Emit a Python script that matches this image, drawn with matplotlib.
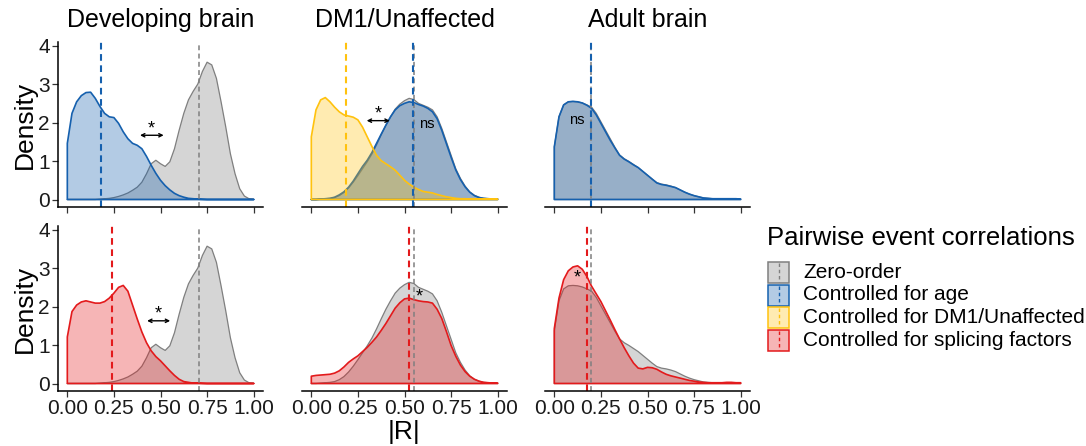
import numpy as np
import matplotlib
matplotlib.use("Agg")
import matplotlib.pyplot as plt
from matplotlib.colors import to_rgba
from matplotlib.patches import Rectangle
from matplotlib.lines import Line2D

plt.rcParams['font.family'] = ['Liberation Sans', 'DejaVu Sans']

# ---------------- data ----------------
panels = ["Developing brain", "DM1/Unaffected", "Adult brain"]
series = ["Zero-order", "Controlled for age", "Controlled for DM1/Unaffected",
          "Controlled for splicing factors"]
series_colors = ["#7f7f7f", "#1560ae", "#ffc20e", "#e31a1c"]
x_ticks = [0.00, 0.25, 0.50, 0.75, 1.00]
x_tick_labels = ["0.00", "0.25", "0.50", "0.75", "1.00"]
y_ticks = [0, 1, 2, 3, 4]

r_grid = [0.000, 0.025, 0.050, 0.075, 0.100, 0.125, 0.150, 0.175, 0.200, 0.225,
          0.250, 0.275, 0.300, 0.325, 0.350, 0.375, 0.400, 0.425, 0.450, 0.475,
          0.500, 0.525, 0.550, 0.575, 0.600, 0.625, 0.650, 0.675, 0.700, 0.725,
          0.750, 0.775, 0.800, 0.825, 0.850, 0.875, 0.900, 0.925, 0.950, 0.975, 1.000]

dev_zero = [0, 0, 0, 0, 0, 0, 0, 0.01, 0.02, 0.03,
            0.05, 0.08, 0.12, 0.17, 0.24, 0.32, 0.45, 0.67, 0.93, 1.02,
            0.93, 0.86, 0.98, 1.32, 1.80, 2.24, 2.59, 2.81, 3.00, 3.33,
            3.57, 3.50, 3.15, 2.54, 1.89, 1.19, 0.67, 0.28, 0.09, 0.02, 0.01]
dev_age = [1.46, 2.24, 2.54, 2.70, 2.78, 2.79, 2.63, 2.42, 2.24, 2.15,
           2.13, 1.98, 1.76, 1.58, 1.46, 1.41, 1.32, 1.12, 0.89, 0.68,
           0.50, 0.36, 0.25, 0.16, 0.10, 0.06, 0.03, 0.02, 0.01, 0.005,
           0, 0, 0, 0, 0, 0, 0, 0, 0, 0, 0]
dev_splice = [1.21, 1.87, 2.04, 2.12, 2.15, 2.12, 2.09, 2.09, 2.13, 2.22,
              2.35, 2.50, 2.55, 2.40, 2.04, 1.68, 1.34, 1.06, 0.85, 0.70,
              0.59, 0.46, 0.33, 0.21, 0.11, 0.05, 0.03, 0.01, 0.01, 0.005,
              0, 0, 0, 0, 0, 0, 0, 0, 0, 0, 0]

dm1_zero = [0.0, 0.0, 0.01, 0.02, 0.03, 0.05, 0.10, 0.18, 0.30, 0.45,
            0.62, 0.80, 0.98, 1.18, 1.42, 1.68, 1.93, 2.15, 2.35, 2.48,
            2.57, 2.63, 2.60, 2.50, 2.45, 2.40, 2.33, 2.15, 1.85, 1.50,
            1.15, 0.80, 0.55, 0.35, 0.20, 0.11, 0.06, 0.03, 0.02, 0.01, 0.01]
dm1_age = [0.0, 0.0, 0.01, 0.02, 0.03, 0.06, 0.12, 0.20, 0.32, 0.48,
           0.67, 0.86, 1.02, 1.22, 1.46, 1.70, 1.93, 2.15, 2.33, 2.44,
           2.50, 2.54, 2.52, 2.47, 2.43, 2.37, 2.28, 2.10, 1.80, 1.45,
           1.10, 0.77, 0.52, 0.33, 0.19, 0.10, 0.05, 0.03, 0.02, 0.01, 0.01]
dm1_dm1 = [1.63, 2.33, 2.59, 2.65, 2.54, 2.40, 2.28, 2.20, 2.17, 2.14,
           2.07, 1.88, 1.63, 1.38, 1.15, 1.01, 0.93, 0.85, 0.76, 0.63,
           0.50, 0.40, 0.32, 0.26, 0.21, 0.19, 0.17, 0.13, 0.10, 0.07,
           0.05, 0.03, 0.02, 0.02, 0.01, 0.01, 0.01, 0.01, 0.01, 0.01, 0.01]
dm1_splice = [0.19, 0.21, 0.22, 0.23, 0.24, 0.27, 0.33, 0.43, 0.55, 0.64,
              0.72, 0.83, 0.94, 1.07, 1.21, 1.38, 1.56, 1.76, 1.96, 2.10,
              2.20, 2.22, 2.18, 2.15, 2.13, 2.12, 2.09, 1.93, 1.69, 1.35,
              0.99, 0.71, 0.48, 0.31, 0.19, 0.11, 0.06, 0.03, 0.02, 0.01, 0.01]

adult_zero = [1.37, 2.15, 2.46, 2.54, 2.55, 2.54, 2.51, 2.46, 2.40, 2.24,
              2.02, 1.80, 1.58, 1.36, 1.16, 1.06, 0.99, 0.91, 0.83, 0.73,
              0.63, 0.53, 0.44, 0.40, 0.38, 0.35, 0.31, 0.25, 0.19, 0.14,
              0.10, 0.07, 0.04, 0.03, 0.02, 0.02, 0.02, 0.02, 0.02, 0.02, 0.01]
adult_age = [1.37, 2.15, 2.46, 2.54, 2.55, 2.54, 2.51, 2.45, 2.37, 2.20,
             1.98, 1.76, 1.54, 1.34, 1.15, 1.05, 0.98, 0.90, 0.83, 0.73,
             0.63, 0.53, 0.43, 0.39, 0.37, 0.34, 0.31, 0.25, 0.19, 0.14,
             0.10, 0.07, 0.04, 0.03, 0.02, 0.02, 0.02, 0.02, 0.02, 0.02, 0.01]
adult_splice = [1.43, 2.22, 2.70, 2.93, 3.03, 3.06, 2.97, 2.78, 2.53, 2.33,
                2.13, 1.89, 1.65, 1.40, 1.16, 0.93, 0.72, 0.53, 0.40, 0.38,
                0.42, 0.41, 0.37, 0.30, 0.24, 0.20, 0.17, 0.14, 0.11, 0.08,
                0.06, 0.04, 0.03, 0.02, 0.02, 0.02, 0.02, 0.03, 0.03, 0.02, 0.02]

# medians (dashed vertical lines)
dev_medians = {"Zero-order": 0.705, "Controlled for age": 0.18,
               "Controlled for splicing factors": 0.239}
dm1_medians = {"Zero-order": 0.549, "Controlled for age": 0.545,
               "Controlled for DM1/Unaffected": 0.186,
               "Controlled for splicing factors": 0.526}
adult_medians = {"Zero-order": 0.197, "Controlled for age": 0.195,
                 "Controlled for splicing factors": 0.174}

densities = {
    "Developing brain": {"Zero-order": dev_zero, "Controlled for age": dev_age,
                         "Controlled for splicing factors": dev_splice},
    "DM1/Unaffected": {"Zero-order": dm1_zero, "Controlled for age": dm1_age,
                       "Controlled for DM1/Unaffected": dm1_dm1,
                       "Controlled for splicing factors": dm1_splice},
    "Adult brain": {"Zero-order": adult_zero, "Controlled for age": adult_age,
                    "Controlled for splicing factors": adult_splice},
}
medians = {"Developing brain": dev_medians, "DM1/Unaffected": dm1_medians,
           "Adult brain": adult_medians}

row_series = [["Zero-order", "Controlled for age", "Controlled for DM1/Unaffected"],
              ["Zero-order", "Controlled for splicing factors"]]

# annotations: (row, panel) -> list of items
arrows = {(0, "Developing brain"): (0.39, 0.517, 1.67),
          (1, "Developing brain"): (0.428, 0.552, 1.63),
          (0, "DM1/Unaffected"): (0.297, 0.421, 2.05)}
labels = {(0, "Developing brain"): [("*", 0.453, 1.84)],
          (1, "Developing brain"): [("*", 0.49, 1.80)],
          (0, "DM1/Unaffected"): [("*", 0.357, 2.22), ("ns", 0.62, 1.95)],
          (1, "DM1/Unaffected"): [("*", 0.58, 2.26)],
          (0, "Adult brain"): [("ns", 0.12, 2.08)],
          (1, "Adult brain"): [("*", 0.124, 2.75)]}

# ---------------- layout ----------------
W, H = 1086, 446
fig = plt.figure(figsize=(W / 100, H / 100), dpi=100)

def rect(l, t, r, b):
    return [l / W, 1 - b / H, (r - l) / W, (b - t) / H]

col_px = [(58, 263), (302, 507), (545, 750)]
row_px = [(42, 207), (226, 391)]
ALPHA = 0.32
color_of = dict(zip(series, series_colors))

for ri, (t, b) in enumerate(row_px):
    for ci, (l, r) in enumerate(col_px):
        ax = fig.add_axes(rect(l, t, r, b))
        pname = panels[ci]
        for s in series:
            if s not in row_series[ri] or s not in densities[pname]:
                continue
            y = densities[pname][s]
            c = color_of[s]
            xs = [r_grid[0]] + r_grid + [r_grid[-1]]
            ys = [0] + y + [0]
            lw = 0.9 if s == "Zero-order" else 1.2
            ax.fill(xs, ys, facecolor=to_rgba(c, ALPHA), edgecolor=c, lw=lw,
                    joinstyle='round')
        for s in series:
            if s not in row_series[ri] or s not in medians[pname]:
                continue
            c = color_of[s]
            lw = 1.1 if s == "Zero-order" else 1.5
            ax.axvline(medians[pname][s], color=c, lw=lw, ls=(0, (3.2, 2.2)))
        if (ri, pname) in arrows:
            x0, x1, yy = arrows[(ri, pname)]
            ax.annotate("", xy=(x1, yy), xytext=(x0, yy),
                        arrowprops=dict(arrowstyle="<->", lw=1.0, color="black",
                                        mutation_scale=6, shrinkA=0, shrinkB=0))
        for txt, tx, ty in labels.get((ri, pname), []):
            if txt == "*":
                ax.text(tx, ty, txt, fontsize=13, ha="center", va="center",
                        color="black")
            else:
                ax.text(tx, ty, txt, fontsize=10.5, ha="center", va="center",
                        color="black")
        ax.set_xlim(-0.05, 1.05)
        ax.set_ylim(-0.195, 4.095)
        for sp in ["top", "right"]:
            ax.spines[sp].set_visible(False)
        ax.spines["bottom"].set_linewidth(1.1)
        ax.spines["bottom"].set_color("black")
        ax.set_xticks(x_ticks)
        if ri == 1:
            ax.set_xticklabels(x_tick_labels)
        else:
            ax.set_xticklabels([])
        if ci == 0:
            ax.spines["left"].set_linewidth(1.1)
            ax.spines["left"].set_color("black")
            ax.set_yticks(y_ticks)
            ax.tick_params(axis="y", direction="out", length=4, width=0.9,
                           color="#333333", labelsize=15, labelcolor="#1a1a1a", pad=2)
        else:
            ax.spines["left"].set_visible(False)
            ax.set_yticks([])
        ax.tick_params(axis="x", direction="out", length=4, width=0.9,
                       color="#333333", labelsize=15, labelcolor="#1a1a1a", pad=2)
        ax.patch.set_visible(False)
        if ri == 0:
            fig.text((l + r) / 2 / W, 1 - 20 / H, pname, fontsize=18,
                     ha="center", va="center")
    fig.text(25 / W, 1 - ((t + b) / 2) / H, "Density", fontsize=19,
             rotation=90, ha="center", va="center")

fig.text(((col_px[1][0] + col_px[1][1]) / 2) / W, 1 - 432 / H, "|R|",
         fontsize=19, ha="center", va="center")

# ---------------- legend ----------------
lax = fig.add_axes([0, 0, 1, 1])
lax.set_xlim(0, W)
lax.set_ylim(H, 0)
lax.axis("off")
lax.text(767, 238, "Pairwise event correlations", fontsize=18.5,
         ha="left", va="center")
key_centers = [272.5, 295, 317.5, 340]
for s, yc in zip(series, key_centers):
    c = color_of[s]
    lax.add_patch(Rectangle((768, yc - 10.5), 21, 21,
                            facecolor=to_rgba(c, ALPHA), edgecolor=c, lw=1.1))
    lax.add_line(Line2D([778.5, 778.5], [yc - 9.5, yc + 9.5], color=c, lw=1.0,
                        ls=(0, (2.5, 2))))
    lax.text(803, yc, s, fontsize=15, ha="left", va="center")

fig.savefig("out.png", dpi=100)
